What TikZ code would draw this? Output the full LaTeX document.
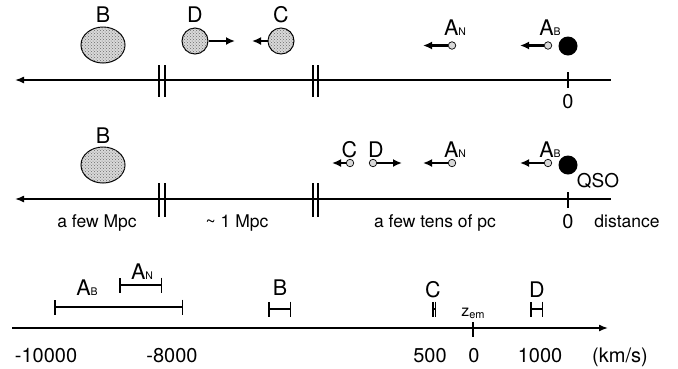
\documentclass[tikz,border=0pt]{standalone}
\usepackage{fontspec}
\setmainfont{TeX Gyre Heros}
\usetikzlibrary{arrows.meta,shapes.geometric,patterns}

\newcommand{\smallsub}[1]{{\fontsize{10.5}{10.5}\selectfont #1}}

\tikzset{
  axis/.style={line width=1.5pt},
  stipple/.style={fill=gray!30, postaction={pattern=crosshatch dots, pattern color=gray!85!black}},
  bigcloud/.style={ellipse, draw, line width=1pt, stipple, minimum width=44pt, minimum height=36pt, inner sep=0pt},
  cloud/.style={circle, draw, line width=1pt, stipple, minimum size=26pt, inner sep=0pt},
  knot/.style={circle, draw, line width=0.7pt, fill=gray!30, minimum size=7.5pt, inner sep=0pt},
  qso/.style={circle, fill=black, minimum size=19pt, inner sep=0pt},
  motion/.style={line width=2.4pt, -{Latex[length=9pt,width=8pt]}},
  vbar/.style={line width=1.5pt, {Bar[width=15pt]}-{Bar[width=15pt]}},
  lbl/.style={anchor=base, inner sep=0pt, font=\fontsize{21.5}{21.5}\selectfont},
  txt/.style={anchor=base, inner sep=0pt, font=\fontsize{17.5}{17.5}\selectfont},
  num/.style={anchor=base, inner sep=0pt, font=\fontsize{20}{20}\selectfont},
}

\begin{document}
\begin{tikzpicture}[x=1pt,y=-1pt]
  \useasboundingbox (0,0) rectangle (678,368);

  % top panel: distance axis with breaks
  \coordinate (topL) at (15,80);
  \coordinate (topR) at (611,80);
  \draw[axis,{Latex[length=9pt,width=7pt]}-] (topL) -- (topR);
  \foreach \x in {159,165,313,318}
    \draw[axis] (\x,65) -- (\x,97);
  \draw[axis] (568,72) -- (568,88);
  \node[num] (zeroT) at (568,108) {0};

  % top panel: absorbers
  \node[bigcloud] (Bt) at (103,45) {};
  \node[lbl] (BtL) at (103,22) {B};
  \node[cloud] (Dt) at (195,41) {};
  \node[lbl] (DtL) at (195,22) {D};
  \node[cloud] (Ct) at (281,41) {};
  \node[lbl] (CtL) at (281,22) {C};
  \coordinate (DtTo) at (235,41);
  \coordinate (CtTo) at (252,41);
  \draw[motion] (Dt.east) -- (DtTo);
  \draw[motion] (Ct.west) -- (CtTo);

  \node[knot] (ANt) at (452,45.5) {};
  \node[lbl] (ANtL) at (455,35) {A\smallsub{N}};
  \node[knot] (ABt) at (548,45.5) {};
  \node[lbl] (ABtL) at (550,35) {A\smallsub{B}};
  \coordinate (ANtTo) at (423,45.5);
  \coordinate (ABtTo) at (520,45.5);
  \draw[motion] (ANt.west) -- (ANtTo);
  \draw[motion] (ABt.west) -- (ABtTo);
  \node[qso] (Qt) at (568,46) {};

  % middle panel: distance axis with breaks
  \coordinate (midL) at (15,199);
  \coordinate (midR) at (611,199);
  \draw[axis,{Latex[length=9pt,width=7pt]}-] (midL) -- (midR);
  \foreach \x in {159,165,313,318}
    \draw[axis] (\x,183) -- (\x,217);
  \draw[axis] (568,192) -- (568,208);
  \node[txt] (fewMpc) at (97,227) {a few Mpc};
  \node[txt] (oneMpc) at (237,227) {\char`\~\ 1 Mpc};
  \node[txt] (tenspc) at (435,227) {a few tens of pc};
  \node[num] (zeroM) at (568,228) {0};
  \node[txt] (dist) at (627,227) {distance};

  % middle panel: absorbers
  \node[bigcloud] (Bm) at (103,165) {};
  \node[lbl] (BmL) at (103,143) {B};
  \node[knot] (Cm) at (350,163) {};
  \node[lbl] (CmL) at (349.5,157) {C};
  \node[knot] (Dm) at (373,163) {};
  \node[lbl] (DmL) at (376,157) {D};
  \node[knot] (ANm) at (452,163) {};
  \node[lbl] (ANmL) at (455,157) {A\smallsub{N}};
  \node[knot] (ABm) at (548,163) {};
  \node[lbl] (ABmL) at (550,157) {A\smallsub{B}};
  \coordinate (CmTo) at (332,163);
  \coordinate (DmTo) at (402,163);
  \coordinate (ANmTo) at (423,163);
  \coordinate (ABmTo) at (520,163);
  \draw[motion] (Cm.west) -- (CmTo);
  \draw[motion] (Dm.east) -- (DmTo);
  \draw[motion] (ANm.west) -- (ANmTo);
  \draw[motion] (ABm.west) -- (ABmTo);
  \node[qso] (Qm) at (568,165) {};
  \node[anchor=base, inner sep=0pt, font=\fontsize{19}{19}\selectfont] (qsoL) at (598,187) {QSO};

  % bottom panel: velocity axis
  \coordinate (velL) at (12,328);
  \coordinate (velR) at (608,328);
  \draw[axis,-{Latex[length=9pt,width=7pt]}] (velL) -- (velR);
  \draw[axis] (473,322) -- (473,337);
  \node[anchor=base, inner sep=0pt, font=\fontsize{16}{16}\selectfont] (zem) at (473,316)
    {z\raisebox{-2pt}{\fontsize{11}{11}\selectfont em}};

  % velocity ranges
  \draw[vbar] (54,307) -- (183,307);
  \node[lbl] (ABv) at (87,295) {A\smallsub{B}};
  \draw[vbar] (119,285) -- (162,285);
  \node[lbl] (ANv) at (142,279) {A\smallsub{N}};
  \draw[vbar] (268,309) -- (291,309);
  \node[lbl] (Bv) at (280,295) {B};
  \draw[vbar] (432,309) -- (436,309);
  \node[lbl] (Cv) at (433,297) {C};
  \draw[vbar] (530,309) -- (543,309);
  \node[lbl] (Dv) at (537,297) {D};

  % velocity tick labels
  \node[num] (v1) at (46,362) {-10000};
  \node[num] (v2) at (172,362) {-8000};
  \node[num] (v3) at (430,362) {500};
  \node[num] (v4) at (474,362) {0};
  \node[num] (v5) at (540,362) {1000};
  \node[num] (v6) at (620,362) {(km/s)};
\end{tikzpicture}
\end{document}
